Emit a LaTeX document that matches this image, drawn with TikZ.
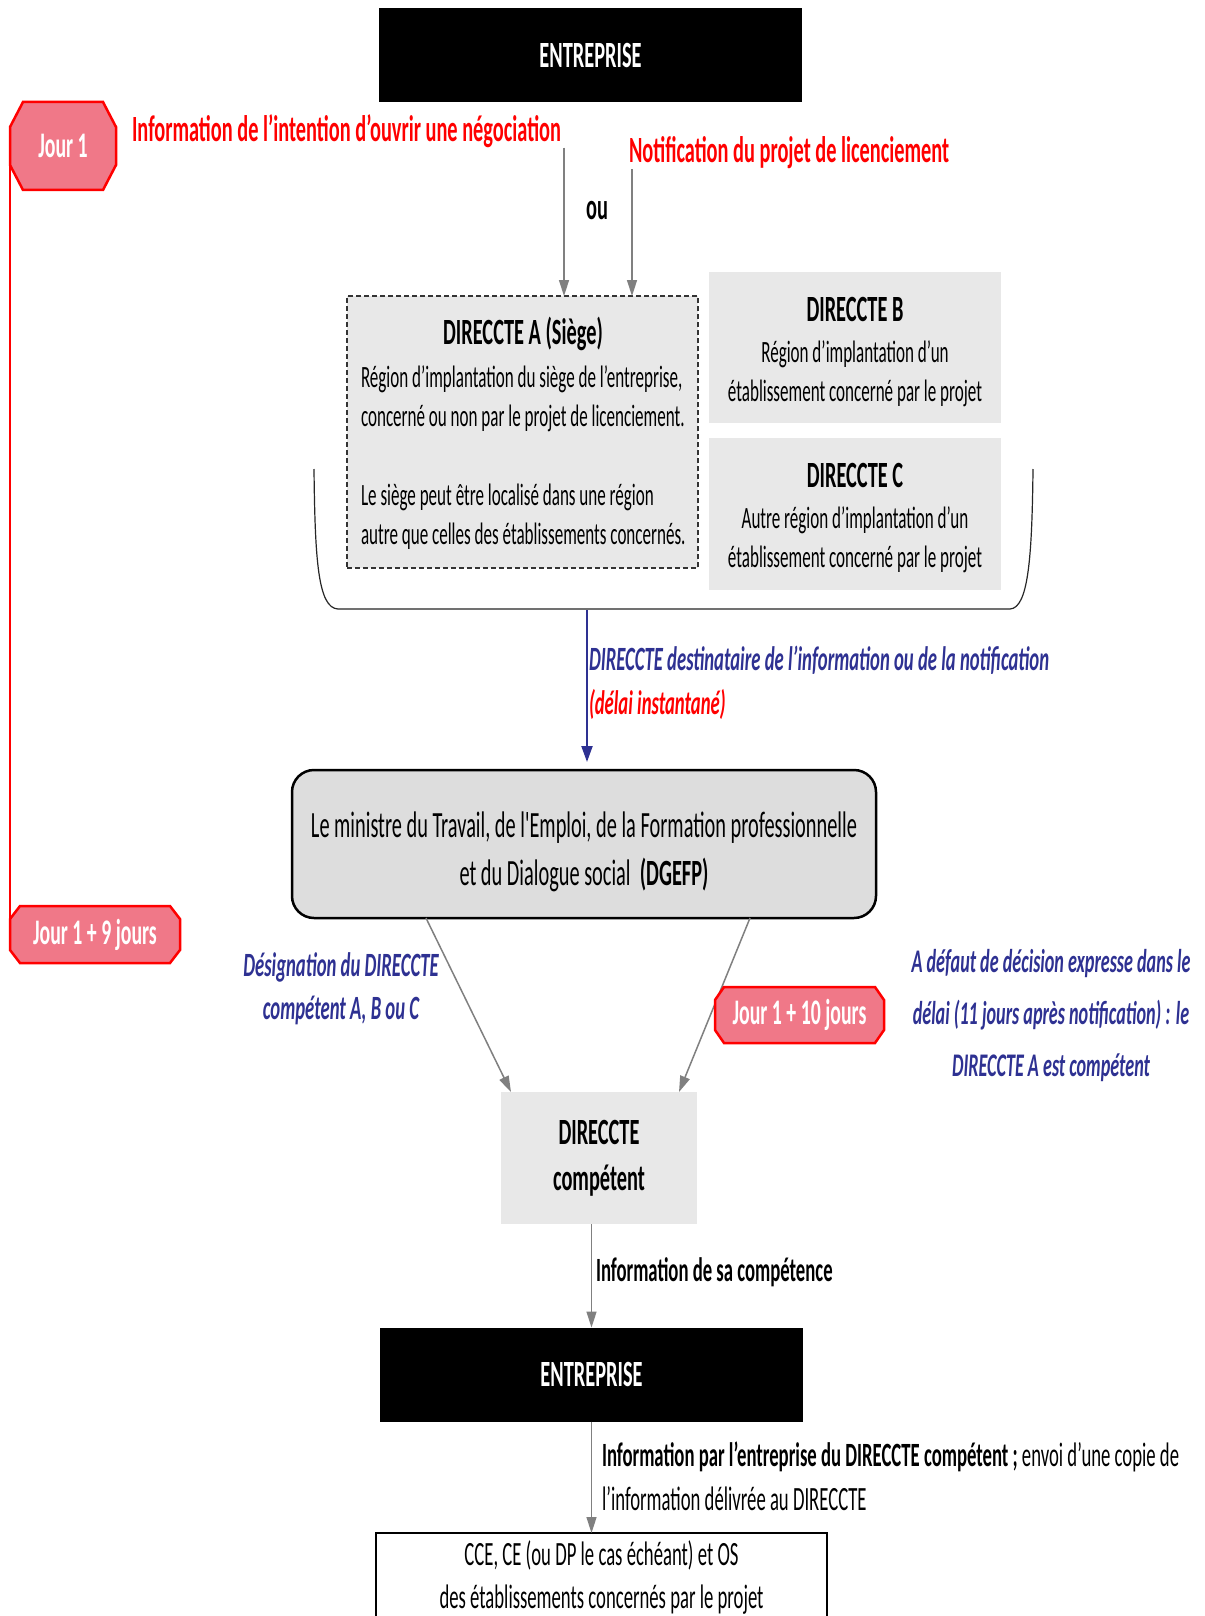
\documentclass[tikz,border=0pt]{standalone}
\usepackage{fontspec}
\setmainfont{Carlito}[FakeStretch=0.55,Ligatures=TeXOff]
\usetikzlibrary{arrows.meta}
\definecolor{jpink}{HTML}{F07888}
\definecolor{jred}{HTML}{FF0000}
\definecolor{jblue}{HTML}{2E3192}
\definecolor{bgrey}{HTML}{E8E8E8}
\definecolor{dgrey}{HTML}{DDDDDD}
\definecolor{agrey}{HTML}{808080}
\newcommand\fsz[2]{\fontsize{#1}{#2}\selectfont}
% octagon: name, cx, cy, half w, half h, chamfer x, chamfer y, text
\newcommand\octo[8]{%
  \fill[jpink, draw=jred, line width=2.5] ({#2-#4+#6},{#3-#5}) -- ({#2+#4-#6},{#3-#5}) -- ({#2+#4},{#3-#5+#7}) -- ({#2+#4},{#3+#5-#7}) -- ({#2+#4-#6},{#3+#5}) -- ({#2-#4+#6},{#3+#5}) -- ({#2-#4},{#3+#5-#7}) -- ({#2-#4},{#3-#5+#7}) -- cycle;
  \node[jourtxt, minimum width={2*#4}, minimum height={2*#5}] (#1) at (#2,#3) {#8};}
\tikzset{
 entbox/.style={fill=black, text=white, font=\bfseries\fsz{37}{44}, minimum width=423, minimum height=94},
 greybox/.style={fill=bgrey},
 dashbox/.style={fill=bgrey, draw=black!80, dash pattern=on 5pt off 3pt, line width=1.2},
 head/.style={font=\bfseries\fsz{37}{44}},
 body/.style={font=\fsz{31}{39}, align=center},
 garrow/.style={draw=agrey, line width=1.5, -{Triangle[length=16pt,width=10pt]}},
 barrow/.style={draw=jblue, line width=2, -{Triangle[length=16pt,width=11pt]}},
 redlbl/.style={text=jred, font=\bfseries\fsz{37}{44}},
 bluelbl/.style={text=jblue, font=\bfseries\itshape\fsz{34}{44}},
 jourtxt/.style={text=white, font=\bfseries\fsz{36}{44}},
}
\begin{document}
\begin{tikzpicture}[x=1pt,y=-1pt, every node/.style={inner sep=0pt, outer sep=0pt}]
\fill[white] (0,0) rectangle (1204,1616);
\useasboundingbox (0,0) rectangle (1204,1616);

% top entreprise
\node[entbox] (ent1) at (590.5,55) {ENTREPRISE};

% labels
\node[redlbl, anchor=west] (info) at (132,131) {Information de l’intention d’ouvrir une négociation};
\node[redlbl, anchor=west] (notif) at (629,153) {Notification du projet de licenciement};
\node[font=\bfseries\fsz{37}{44}] (ou) at (597,211) {ou};

% DIRECCTE A
\node[dashbox, minimum width=351, minimum height=272] (dA) at (522.5,432) {};
\node[head] (dAh) at (523,334) {DIRECCTE A (Siège)};
\node[font=\fsz{31}{39}, align=left, anchor=west] (dAt1) at (361,398.5) {Région d’implantation du siège de l’entreprise,\\concerné ou non par le projet de licenciement.};
\node[font=\fsz{31}{39}, align=left, anchor=west] (dAt2) at (361,517) {Le siège peut être localisé dans une région\\autre que celles des établissements concernés.};

% DIRECCTE B, C
\node[greybox, minimum width=292, minimum height=151] (dB) at (855,347.5) {};
\node[head] (dBh) at (855,309) {DIRECCTE B};
\node[body] (dBt) at (855,373.5) {Région d’implantation d’un\\établissement concerné par le projet};
\node[greybox, minimum width=292, minimum height=152] (dC) at (855,514) {};
\node[head] (dCh) at (855,475) {DIRECCTE C};
\node[body] (dCt) at (855,539.5) {Autre région d’implantation d’un\\établissement concerné par le projet};

\coordinate (xa) at (564,0);
\coordinate (xb) at (632,0);
\draw[garrow] (info.south -| xa) -- (dA.north -| xa);
\draw[garrow] (notif.south -| xb) -- (dA.north -| xb);

% brace
\draw[black!85, line width=1.2] (314,469) .. controls (315,560) and (318,608) .. (338,609) -- (1010,609) .. controls (1028,608) and (1032,560) .. (1033,469);
\coordinate (bb) at (587,610);

% DGEFP
\node[draw=black, line width=2.5, fill=dgrey, rounded corners=22, minimum width=584, minimum height=148] (dg) at (584,844) {};
\node[font=\fsz{37}{48}, align=center] (dgt) at (584,852) {Le ministre du Travail, de l'Emploi, de la Formation professionnelle\\et du Dialogue social~~\textbf{(DGEFP)}};
\draw[barrow, shorten >=8pt] (bb) -- (bb |- dg.north);
\node[bluelbl, align=left, anchor=west] (dest) at (589,683) {DIRECCTE destinataire de l’information ou de la notification\\\textcolor{jred}{(délai instantané)}};

% jours
\octo{j1}{63}{146}{53}{44}{13}{25}{Jour 1}
\octo{j9}{95}{934.5}{85}{28.5}{10}{13}{Jour 1 + 9 jours}
\draw[jred, line width=2.5] (j1.west) -- (j9.west);

% competent
\node[greybox, minimum width=196, minimum height=132, font=\bfseries\fsz{37}{46}, align=center] (comp) at (599,1158) {DIRECCTE\\compétent};
\draw[garrow] ([xshift=134pt]dg.south west) -- ([xshift=10pt]comp.north west);
\draw[garrow] ([xshift=-126pt]dg.south east) -- ([xshift=-18pt]comp.north east);
\octo{j10}{799.5}{1015}{84.5}{28}{9}{13}{Jour 1 + 10 jours}
\node[bluelbl, align=center, font=\bfseries\itshape\fsz{34}{43}] (des) at (341,988.5) {Désignation du DIRECCTE\\compétent A, B ou C};
\node[bluelbl, align=center, font=\bfseries\itshape\fsz{33}{52}] (adef) at (1051,1016) {A défaut de décision expresse dans le\\délai (11 jours après notification) : le\\DIRECCTE A est compétent};

% bottom entreprise
\node[entbox] (ent2) at (591.5,1374.5) {ENTREPRISE};
\draw[garrow] (comp.south -| ent2.north) -- (ent2.north);
\node[font=\bfseries\fsz{34}{44}, anchor=west] (infocomp) at (596,1272) {Information de sa compétence};

\node[draw=black, line width=1.2, fill=white, anchor=north, minimum width=451, inner ysep=8pt, font=\fsz{34}{43}, align=center] (cce) at (601.5,1533) {CCE, CE (ou DP le cas échéant) et OS\\des établissements concernés par le projet\rule[-30pt]{0pt}{0pt}};
\draw[garrow] (ent2.south) -- (ent2.south |- cce.north);
\node[font=\fsz{34}{44}, align=left, anchor=west] (infoent) at (602,1476) {\textbf{Information par l’entreprise du DIRECCTE compétent ;} envoi d’une copie de\\l’information délivrée au DIRECCTE};
\end{tikzpicture}
\end{document}
